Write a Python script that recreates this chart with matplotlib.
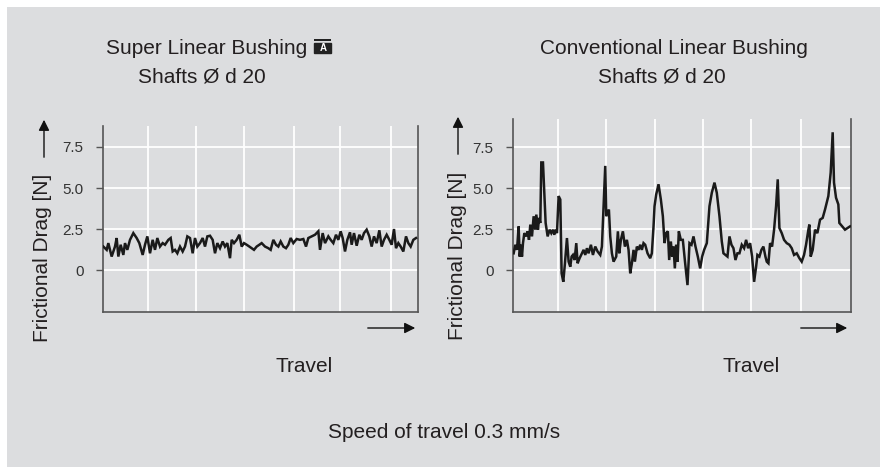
import matplotlib
matplotlib.use("Agg")
import matplotlib.pyplot as plt
from matplotlib.patches import Rectangle

plt.rcParams["font.family"] = ["Liberation Sans", "DejaVu Sans"]

# ---- data (travel in arbitrary units, drag in N) ----
super_travel = [10, 20, 25, 35, 45, 50, 55, 62, 70, 75, 82, 90, 100, 110, 118, 128, 135, 142,
                150, 158, 165, 172, 180, 188, 195, 205, 212, 218, 225, 232, 240, 248, 255, 262,
                270, 278, 285, 292, 300, 308, 315, 322, 330, 338, 345, 352, 360, 368, 375, 382,
                390, 395, 402, 410, 418, 425, 432, 440, 448, 455, 462, 470, 478, 485, 495, 505,
                512, 520, 528, 535, 542, 550, 558, 565, 572, 580, 590, 600, 610, 618, 625, 635,
                645, 655, 660, 668, 675, 685, 692, 700, 708, 715, 722, 728, 735, 742, 750, 755,
                762, 770, 778, 785, 792, 800, 808, 815, 822, 830, 838, 845, 852, 860, 868, 875,
                882, 888, 895, 902, 910, 918, 925, 932, 940, 948]
super_drag = [1.43, 1.23, 1.64, 0.82, 1.43, 1.95, 0.82, 1.54, 0.92, 1.64, 1.23, 1.84, 2.25, 1.95,
              1.64, 0.92, 1.54, 2.05, 1.02, 1.84, 1.23, 1.95, 1.43, 1.64, 1.54, 1.84, 1.95, 1.13,
              1.23, 1.02, 1.43, 1.13, 1.43, 2.05, 1.95, 1.02, 1.95, 1.43, 1.64, 1.95, 1.43, 2.05,
              2.09, 1.84, 1.02, 1.64, 1.33, 1.74, 1.43, 1.64, 0.72, 1.84, 1.64, 1.84, 2.15, 1.43,
              1.64, 1.54, 1.43, 1.33, 1.23, 1.43, 1.54, 1.64, 1.43, 1.33, 1.23, 1.84, 1.54, 1.43,
              1.74, 1.43, 1.33, 1.54, 1.95, 1.64, 1.89, 1.84, 1.89, 1.43, 1.95, 2.05, 2.15, 2.36,
              1.23, 2.25, 1.64, 2.05, 1.84, 1.64, 2.15, 1.84, 2.36, 1.95, 1.13, 1.84, 2.30, 1.54,
              2.25, 1.48, 2.15, 1.84, 2.25, 2.46, 2.05, 1.43, 2.05, 1.64, 2.42, 1.43, 1.84, 2.15,
              1.84, 1.54, 2.50, 1.33, 1.64, 1.43, 1.13, 2.05, 1.64, 1.43, 1.84, 1.95]

conv_travel = [130, 135, 140, 145, 148, 152, 155, 158, 162, 168, 172, 176, 180, 185, 190, 195,
               198, 203, 206, 210, 213, 218, 222, 226, 232, 238, 243, 248, 252, 256, 260, 265,
               270, 274, 279, 284, 290, 295, 300, 304, 308, 313, 318, 322, 328, 335, 340, 345,
               350, 355, 362, 368, 375, 382, 390, 395, 400, 405, 408, 412, 416, 420, 425, 430,
               438, 443, 447, 452, 458, 464, 470, 475, 480, 485, 490, 494, 500, 505, 510, 515,
               520, 525, 532, 540, 545, 550, 553, 558, 565, 572, 578, 583, 588, 593, 597, 602,
               606, 610, 614, 618, 622, 626, 632, 638, 645, 652, 658, 664, 670, 676, 683, 690,
               696, 702, 710, 718, 725, 733, 740, 748, 755, 760, 766, 772, 778, 784, 790, 796,
               802, 808, 815, 822, 828, 834, 840, 846, 852, 858, 862, 868, 874, 880, 886, 890,
               895, 900, 906, 912, 918, 923, 928, 935, 942, 950, 958, 965, 972, 980, 988, 995,
               1002, 1008, 1015, 1018, 1022, 1028, 1035, 1042, 1050, 1058, 1065, 1075, 1082,
               1088, 1092, 1098, 1105, 1108, 1125, 1140]
conv_drag = [1.02, 1.54, 1.23, 2.66, 0.82, 1.54, 0.82, 1.64, 2.25, 2.05, 2.36, 1.84, 2.77, 2.05,
             3.28, 2.46, 3.38, 2.46, 3.18, 2.87, 6.56, 6.56, 4.71, 2.87, 2.05, 2.46, 2.25, 2.46,
             2.15, 2.46, 2.25, 4.51, 4.30, -0.20, -0.72, 0.41, 1.95, 0.51, 0.20, 0.82, 0.92, 0.61,
             1.64, 0.41, 0.72, 1.02, 1.23, 0.92, 1.33, 1.02, 1.54, 0.92, 1.43, 1.13, 0.92, 1.43,
             3.89, 6.35, 3.28, 3.48, 3.69, 2.05, 1.02, 0.51, 0.82, 2.36, 1.02, 1.84, 2.36, 1.43,
             1.84, 1.23, -0.20, 0.41, 1.23, 0.51, 1.43, 1.23, 1.54, 1.23, 1.64, 1.54, 1.02, 0.72,
             1.02, 2.66, 3.89, 4.61, 5.23, 4.30, 3.28, 1.64, 2.25, 2.36, 0.61, 1.74, 0.82, 1.43,
             0.10, 1.54, 0.51, 2.36, 1.84, 1.84, 0.41, -0.92, 1.64, 1.54, 2.05, 1.43, 0.82, 0.10,
             0.82, 1.23, 1.64, 3.89, 4.71, 5.33, 4.71, 3.28, 1.74, 1.02, 0.92, 0.82, 2.05, 1.54,
             1.33, 0.61, 1.02, 1.02, 1.54, 1.33, 1.84, 1.33, 1.64, 0.82, -0.72, 0.20, 0.92, 0.82,
             1.23, 1.43, 0.82, 0.51, 0.41, 1.64, 1.43, 2.46, 3.89, 5.53, 2.56, 2.25, 1.84, 1.64,
             1.54, 1.33, 0.92, 1.02, 0.72, 0.51, 0.92, 1.54, 2.46, 2.77, 0.82, 1.23, 2.46, 2.25,
             3.07, 3.18, 3.69, 4.51, 5.94, 8.40, 5.33, 4.41, 4.00, 2.87, 2.46, 2.66]

y_ticks = [0, 2.5, 5.0, 7.5]
y_tick_labels = ["0", "2.5", "5.0", "7.5"]
super_grid_x = [144, 288, 432, 582, 720, 873]
conv_grid_x = [263, 407, 553, 700, 842, 992]

W, H = 880, 467
BG = "#dcdddf"
INK = "#231f20"


def fx(px):
    return px / W


def fy(py):
    return 1 - py / H


fig = plt.figure(figsize=(W / 100, H / 100), dpi=100)
fig.patch.set_facecolor("white")
fig.patches.append(Rectangle((fx(7), 0), 1 - fx(7), fy(7), transform=fig.transFigure,
                             facecolor=BG, edgecolor="none", zorder=-5))


def panel(left, right, top, xlim, ylim_top, travel, drag, grid_x):
    ax = fig.add_axes([fx(left), fy(312), fx(right) - fx(left), fy(top) - fy(312)])
    ax.set_facecolor(BG)
    ax.plot(travel, drag, color="#1a1a1a", lw=1.8, solid_joinstyle="miter", zorder=3)
    ax.set_xlim(*xlim)
    ax.set_ylim(-2.56, ylim_top)
    ax.set_xticks(grid_x)
    ax.set_yticks(y_ticks)
    ax.set_yticklabels(y_tick_labels)
    ax.grid(True, color="white", lw=1.3, zorder=1)
    ax.tick_params(axis="x", length=0, labelbottom=False)
    ax.tick_params(axis="y", direction="out", length=5, width=1, color="#555555",
                   pad=9, labelsize=11, labelcolor="#333333")
    ax.spines["top"].set_visible(False)
    for s in ("left", "bottom", "right"):
        ax.spines[s].set_color("#555555")
        ax.spines[s].set_linewidth(1.2)
    return ax


ax1 = panel(103, 418, 126, (9, 954), 8.78, super_travel, super_drag, super_grid_x)
ax2 = panel(513, 851, 119, (128, 1143), 9.21, conv_travel, conv_drag, conv_grid_x)

arrow = dict(arrowstyle="-|>", color="#111111", lw=1.0, mutation_scale=16)
txt = dict(color=INK, fontsize=15)

# y labels + up arrows
for x, y_arrow_bot, y_arrow_top, y_lab in [(43, 160, 117, 258), (457, 157, 114, 256)]:
    fig.text(fx(x), fy(y_lab), "Frictional Drag [N]", rotation=90, ha="center", va="center", **txt)
    fig.add_artist(plt.Annotation("", xy=(fx(x + 1), fy(y_arrow_top)),
                                  xytext=(fx(x + 1), fy(y_arrow_bot)),
                                  xycoords="figure fraction", arrowprops=arrow))

# travel arrows + labels
for x0, x1, xl in [(365, 418, 275), (798, 850, 722)]:
    fig.add_artist(plt.Annotation("", xy=(fx(x1), fy(328)), xytext=(fx(x0), fy(328)),
                                  xycoords="figure fraction", arrowprops=arrow))
    fig.text(fx(xl), fy(366), "Travel", ha="left", va="center", **txt)

# titles
t1 = fig.text(fx(106), fy(48), "Super Linear Bushing", ha="left", va="center", **txt)
fig.text(fx(138), fy(77), "Shafts Ø d 20", ha="left", va="center", **txt)
fig.text(fx(540), fy(48), "Conventional Linear Bushing", ha="left", va="center", **txt)
fig.text(fx(598), fy(77), "Shafts Ø d 20", ha="left", va="center", **txt)
fig.text(fx(328), fy(432), "Speed of travel 0.3 mm/s", ha="left", va="center", **txt)

# small product symbol after the left title
fig.canvas.draw()
bb = t1.get_window_extent()
ix = bb.x1 + 7
fig.patches.append(Rectangle((ix / W, fy(53)), 17 / W, 10 / H, transform=fig.transFigure,
                             facecolor="#222222", edgecolor="#222222", zorder=5))
fig.patches.append(Rectangle((ix / W, fy(41)), 17 / W, 2 / H, transform=fig.transFigure,
                             facecolor="#222222", edgecolor="none", zorder=5))
fig.text((ix + 8.5) / W, fy(48), "A", ha="center", va="center", color="white",
         fontsize=7, fontweight="bold", zorder=6)

fig.savefig("out.png", dpi=100, facecolor=fig.get_facecolor())
